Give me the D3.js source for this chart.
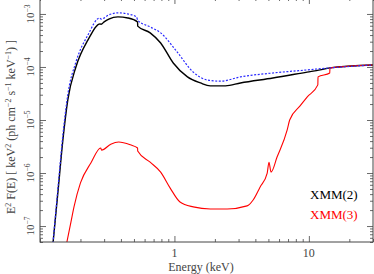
<!DOCTYPE html>
<html>
<head>
<meta charset="utf-8">
<script src="https://cdn.jsdelivr.net/npm/d3@7"></script>
<style>
  html, body { margin: 0; padding: 0; background: #fff; }
  svg { display: block; }
  svg text { font-family: "Liberation Serif", "Times New Roman", Times, serif; }
</style>
</head>
<body>
<svg width="374" height="274"></svg>
<script>
// 데이터
const seriesNames = ["XMM(2)", "XMM(3)"];
const xTickLabels = [1, 10];
const yTickExps = [-7, -6, -5, -4, -3];

const energyBlack = [0.125, 0.136, 0.148, 0.161, 0.185, 0.227, 0.28, 0.285, 0.3, 0.325, 0.38, 0.45, 0.532, 0.533, 0.66, 0.79, 0.98, 1.25, 1.56, 1.85, 2.4, 3.1, 5.4, 9.7, 12.1, 14.3, 30];
const fluxBlack = [4.8e-8, 4.4e-7, 4.2e-6, 2.4e-5, 1.0e-4, 3.2e-4, 6.5e-4, 6.4e-4, 7.1e-4, 8.0e-4, 8.8e-4, 8.4e-4, 7.06e-4, 5.9e-4, 4.4e-4, 2.84e-4, 1.19e-4, 6.5e-5, 5.0e-5, 4.4e-5, 4.4e-5, 5.0e-5, 6.2e-5, 8.0e-5, 8.8e-5, 9.6e-5, 1.09e-4];

const energyBlue = [0.125, 0.136, 0.148, 0.161, 0.185, 0.227, 0.278, 0.285, 0.325, 0.38, 0.45, 0.523, 0.533, 0.66, 0.79, 1.05, 1.38, 1.75, 2.2, 3.1, 5.4, 9.7, 14.3, 30];
const fluxBlue = [4.8e-8, 5.2e-7, 5.2e-6, 3.0e-5, 1.24e-4, 4.0e-4, 8.4e-4, 8.0e-4, 9.6e-4, 1.05e-3, 1.0e-3, 8.8e-4, 7.6e-4, 5.7e-4, 4.4e-4, 1.9e-4, 8.0e-5, 5.7e-5, 5.4e-5, 6.5e-5, 7.7e-5, 8.8e-5, 9.6e-5, 1.09e-4];

const energyRed = [0.158, 0.17, 0.179, 0.2, 0.239, 0.283, 0.287, 0.336, 0.385, 0.47, 0.532, 0.533, 0.66, 0.79, 0.93, 1.1, 1.38, 1.85, 2.47, 3.47, 3.85, 4.33, 4.9, 5.05, 5.23, 5.8, 6.9, 7.2, 8.6, 9.7, 11.66, 11.7, 14.3, 14.35, 30];
const fluxRed = [4.8e-8, 1.2e-7, 2.3e-7, 6.5e-7, 1.54e-6, 2.96e-6, 2.7e-6, 3.5e-6, 3.85e-6, 3.4e-6, 2.96e-6, 2.6e-6, 1.6e-6, 1.04e-6, 5.2e-7, 2.84e-7, 2.3e-7, 2.1e-7, 2.1e-7, 2.4e-7, 3.1e-7, 5.4e-7, 1.0e-6, 1.6e-6, 1.04e-6, 2.0e-6, 6.5e-6, 1.0e-5, 1.84e-5, 2.7e-5, 4.6e-5, 6.5e-5, 7.7e-5, 9.6e-5, 1.09e-4];

renderChart();

function renderChart() {
  const svg = d3.select("svg");
  const left = 40, right = 373, top = -2, bottom = 242;
  const axisColor = "#444";

  const x = d3.scaleLog().domain([0.1, 30]).range([left, right]);
  const y = d3.scaleLog().domain([5e-8, 2e-3]).range([bottom, top]);

  svg.append("defs").append("clipPath").attr("id", "plot")
    .append("rect").attr("x", left).attr("y", top).attr("width", right - left).attr("height", bottom - top);

  const line = d3.line()
    .x((d) => x(d[0]))
    .y((d) => y(d[1]))
    .curve(d3.curveMonotoneX);

  const series = [
    { e: energyBlack, f: fluxBlack, color: "#000", width: 1.4, dash: null },
    { e: energyRed, f: fluxRed, color: "#ff0000", width: 1.1, dash: null },
    { e: energyBlue, f: fluxBlue, color: "#2a2aff", width: 1.2, dash: "2,1.6" },
  ];

  const g = svg.append("g").attr("clip-path", "url(#plot)");
  series.forEach((s) => {
    g.append("path")
      .datum(s.e.map((v, i) => [v, s.f[i]]))
      .attr("d", line)
      .attr("fill", "none")
      .attr("stroke", s.color)
      .attr("stroke-width", s.width)
      .attr("stroke-dasharray", s.dash);
  });

  // 눈금 (주/보조)
  const xMinor = x.ticks().filter((v) => !xTickLabels.includes(v));
  const yMajor = yTickExps.map((e) => Math.pow(10, e));
  const yMinor = y.ticks().filter((v) => !yMajor.some((m) => Math.abs(m - v) / m < 1e-6));

  function drawAxis(axisFn, scale, pos, values, size) {
    const a = svg.append("g")
      .attr("transform", pos)
      .call(axisFn(scale).tickValues(values).tickSize(size).tickFormat(""));
    a.select(".domain").remove();
    a.selectAll("line").attr("stroke", axisColor).attr("stroke-width", 0.8);
  }

  drawAxis(d3.axisBottom, x, `translate(0,${bottom})`, xTickLabels, -6);
  drawAxis(d3.axisBottom, x, `translate(0,${bottom})`, xMinor, -3);
  drawAxis(d3.axisTop, x, `translate(0,${top})`, xTickLabels, -6);
  drawAxis(d3.axisTop, x, `translate(0,${top})`, xMinor, -3);
  drawAxis(d3.axisLeft, y, `translate(${left},0)`, yMajor, -6);
  drawAxis(d3.axisLeft, y, `translate(${left},0)`, yMinor, -3);
  drawAxis(d3.axisRight, y, `translate(${right},0)`, yMajor, -6);
  drawAxis(d3.axisRight, y, `translate(${right},0)`, yMinor, -3);

  svg.append("rect")
    .attr("x", left).attr("y", top)
    .attr("width", right - left).attr("height", bottom - top)
    .attr("fill", "none").attr("stroke", axisColor).attr("stroke-width", 1);

  // x 눈금 라벨
  svg.selectAll(".xlab")
    .data(xTickLabels)
    .enter()
    .append("text")
    .attr("x", (d) => x(d))
    .attr("y", 257)
    .attr("text-anchor", "middle")
    .style("font-size", "12px")
    .style("fill", axisColor)
    .text((d) => d);

  // y 눈금 라벨 (회전)
  const ylab = svg.selectAll(".ylab")
    .data(yTickExps)
    .enter()
    .append("text")
    .attr("transform", (d) => `translate(34,${y(Math.pow(10, d))}) rotate(-90)`)
    .attr("text-anchor", "middle")
    .style("font-size", "11px")
    .style("fill", axisColor);
  ylab.append("tspan").text("10");
  ylab.append("tspan").attr("dy", -4).style("font-size", "7.5px").text((d) => "\u2212" + Math.abs(d));

  svg.append("text")
    .attr("x", 201).attr("y", 271)
    .attr("text-anchor", "middle")
    .style("font-size", "12px")
    .style("fill", axisColor)
    .text("Energy (keV)");

  // y 축 제목
  const yt = svg.append("text")
    .attr("transform", "translate(15,127) rotate(-90)")
    .attr("text-anchor", "middle")
    .style("font-size", "12px")
    .style("fill", axisColor);
  const parts = [
    ["E", 0], ["2", 1], [" F(E) [ keV", 0], ["2", 1], [" (ph cm", 0], ["\u22122", 1],
    [" s", 0], ["\u22121", 1], [" keV", 0], ["\u22121", 1], [") ]", 0],
  ];
  let prevSup = 0;
  parts.forEach(([t, sup]) => {
    yt.append("tspan")
      .attr("dy", sup === prevSup ? 0 : sup ? -4 : 4)
      .style("font-size", sup ? "8px" : "12px")
      .text(t);
    prevSup = sup;
  });

  // 범례
  const legendColors = ["#000", "#ff0000"];
  svg.selectAll(".leg")
    .data(seriesNames)
    .enter()
    .append("text")
    .attr("x", 310)
    .attr("y", (d, i) => 199 + i * 20)
    .style("font-size", "13px")
    .style("fill", (d, i) => legendColors[i])
    .text((d) => d);
}
</script>
</body>
</html>
